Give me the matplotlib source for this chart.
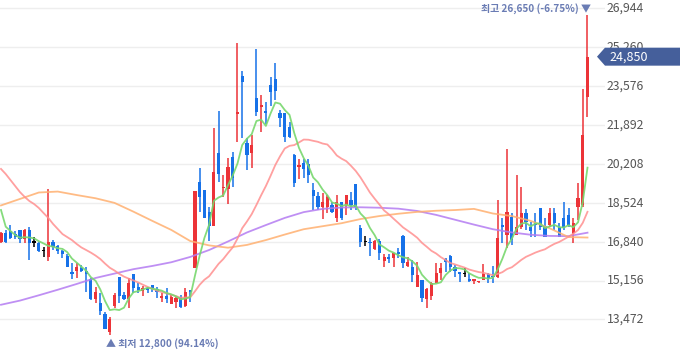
import numpy as np
import pandas as pd
import matplotlib
matplotlib.use("Agg")
import matplotlib.pyplot as plt
from matplotlib.patches import Polygon
from matplotlib.transforms import IdentityTransform, blended_transform_factory

plt.rcParams['font.family'] = ['Noto Sans CJK KR', 'DejaVu Sans']

# daily candles (KRW)
opens = [16840, 17230, 17320, 17170, 17350, 16940, 17350, 16800, 16800, 16450,
         16190, 16830, 16650, 16450, 16220, 15540, 15580, 15700, 15580, 15240,
         14360, 14170, 13710, 12920, 14060, 15310, 14530, 14360, 15430, 14890,
         14710, 14850, 14970, 14790, 14420, 14490, 14140, 14240, 14460, 14060,
         14750, 15690, 19440, 19080, 18110, 17530, 20690, 19150, 19120, 20510,
         22380, 24030, 21100, 20670, 23070, 22680, 22500, 23620, 23880, 22400,
         22400, 21790, 20590, 20060, 20260, 20190, 19080, 18820, 18330, 18360,
         18430, 17850, 18570, 18430, 18650, 19340, 17420, 16810, 16840, 16520,
         16870, 16020, 16160, 16120, 16410, 17090, 15790, 15760, 14870, 15180,
         14360, 14500, 15070, 15500, 16080, 16220, 15730, 15520, 15440, 15210,
         15150, 15080, 15180, 15430, 15360, 15330, 17560, 17130, 17920, 17130,
         17490, 18070, 17460, 17640, 18290, 17520, 17560, 18070, 17490, 17850,
         18000, 17200, 18360, 18430, 23120]
highs = [17270, 17350, 17560, 17320, 17350, 17380, 17460, 17030, 16840, 16620,
         19110, 16910, 16680, 16480, 16310, 15900, 15900, 15830, 15730, 15280,
         14890, 14610, 13810, 13590, 14630, 15310, 14680, 15260, 15430, 15040,
         14920, 14890, 14970, 14870, 14630, 14820, 14530, 14460, 14530, 14820,
         14750, 19050, 20040, 19080, 18360, 21750, 22500, 19730, 20480, 20740,
         25430, 24230, 21320, 21460, 25180, 23190, 22900, 23980, 24560, 22540,
         22400, 22040, 20640, 20410, 20420, 20410, 19370, 19000, 18940, 18860,
         18570, 18860, 18570, 18860, 19000, 19340, 17560, 17100, 16990, 16910,
         16940, 16310, 16310, 16360, 16550, 17130, 16190, 16050, 15970, 15180,
         14820, 15110, 15900, 15900, 16120, 16260, 15830, 15540, 15690, 15470,
         15210, 15150, 15870, 15470, 15790, 18650, 17850, 20840, 18080, 19730,
         19200, 18260, 17710, 18080, 18290, 17850, 18290, 18290, 17640, 18570,
         18290, 17850, 19370, 23440, 26650]
lows = [16770, 16800, 16940, 16940, 16770, 16770, 16050, 16620, 16410, 16190,
        16020, 16480, 16310, 16120, 15730, 15230, 15280, 15540, 14680, 14320,
        14170, 13670, 13060, 12800, 13960, 14200, 14320, 13960, 14630, 14610,
        14490, 14630, 14680, 14390, 14240, 14200, 14140, 13980, 13980, 14030,
        14240, 15690, 18140, 17850, 16880, 17530, 19440, 18790, 18470, 19220,
        21140, 21340, 19940, 20040, 22290, 21600, 21920, 22710, 22970, 21820,
        21140, 21320, 19220, 19540, 19600, 19370, 18210, 18210, 17810, 18070,
        18070, 17710, 17780, 18000, 18210, 18210, 16600, 16650, 16220, 16480,
        16050, 15730, 15930, 15760, 16120, 15690, 15760, 15110, 14870, 14240,
        13960, 14320, 15040, 15180, 15540, 15540, 15330, 15110, 15330, 15110,
        15010, 15040, 15180, 15040, 15040, 15260, 16800, 16550, 16700, 17130,
        17380, 17350, 17060, 17030, 17350, 17030, 17490, 17350, 17030, 17350,
        17490, 16770, 17780, 18360, 22250]
closes = [17230, 16840, 16990, 17060, 16940, 17350, 16770, 16800, 16450, 16450,
          16830, 16600, 16450, 16310, 15760, 15430, 15730, 15560, 15430, 14360,
          14660, 13840, 13060, 13480, 14520, 14500, 14360, 15040, 14850, 14750,
          14850, 14750, 14820, 14680, 14500, 14350, 14460, 14390, 14030, 14650,
          14680, 19050, 18760, 17850, 17530, 19870, 19760, 19220, 20070, 19610,
          22460, 23770, 20590, 21030, 22470, 22760, 22410, 23310, 23380, 22210,
          21390, 21360, 19390, 20160, 20000, 19730, 18820, 18360, 18570, 18790,
          18140, 18570, 17850, 18860, 18430, 18330, 16840, 16810, 16770, 16870,
          16340, 16190, 16090, 16340, 16310, 15900, 15970, 15400, 15400, 14390,
          14790, 15040, 15500, 15690, 15970, 15760, 15580, 15440, 15440, 15140,
          15210, 15150, 15440, 15280, 15300, 16990, 17490, 18140, 16910, 17490,
          18070, 17710, 17320, 17560, 17490, 17060, 18070, 17660, 17060, 17420,
          17560, 17640, 18720, 21460, 24850]

# closes before the visible window, for the 5-day average
prev_closes = [20450, 17925, 17925, 17530]
# 20-day average for the first 19 days (window starts before the chart)
ma20_head = [19990, 19770, 19510, 19250, 18990, 18780, 18600, 18470, 18300, 18080,
             17870, 17610, 17390, 17170, 17040, 16910, 16740, 16590, 16480]
# 60 / 120 day averages read every 4 candles
ma_idx = list(range(0, 125, 4)) + [124]
ma60 = [18410, 18690, 18970, 19010, 18860, 18720, 18520, 18140, 17740, 17350,
        16870, 16680, 16580, 16700, 16910, 17150, 17380, 17510, 17640, 17820,
        17950, 18050, 18130, 18180, 18210, 18260, 18060, 17950, 17740, 17420,
        17040, 17020]
ma120 = [14110, 14290, 14520, 14760, 15010, 15270, 15460, 15650, 15790, 15950,
         16180, 16480, 16850, 17240, 17560, 17870, 18120, 18260, 18320, 18330,
         18310, 18270, 18170, 18000, 17790, 17580, 17380, 17240, 17140, 17090,
         17080, 17230]
ma_idx = ma_idx[:len(ma60)]

yticks = [13472, 15156, 16840, 18524, 20208, 21892, 23576, 25260, 26944]

RED = '#ec3338'
BLUE = '#1671e8'
NOTE = '#6a7cb4'

o = np.array(opens)
h = np.array(highs)
l = np.array(lows)
c = np.array(closes)
x = np.arange(len(c))

cs = pd.Series(prev_closes + closes)
ma5 = cs.rolling(5).mean().to_numpy()[len(prev_closes):]
ma20 = pd.Series(closes).rolling(20).mean().to_numpy()
ma20[:len(ma20_head)] = ma20_head

fig = plt.figure(figsize=(6.8, 3.58), dpi=100)
ax = fig.add_axes([0, 0, 605 / 680, 1])
ax.set_xlim(-0.21, 127.7)
ax.set_ylim(11805, 27303)

for s in ax.spines.values():
    s.set_visible(False)
ax.set_xticks([])
ax.set_yticks([])
for t in yticks:
    ax.axhline(t, color='#eeeeee', lw=1, zorder=0)

# price scale on the right
scale_tr = blended_transform_factory(fig.transFigure, ax.transData)
for t in yticks:
    fig.text(607 / 680, t, f"{t:,}", transform=scale_tr, ha='left', va='center',
             fontsize=8.8, color='#555555')

colors = np.where(c > o, RED, np.where(c < o, BLUE, '#000000'))
ax.vlines(x, l, h, colors=colors, lw=1.1, zorder=2)
ax.bar(x, np.maximum(np.abs(c - o), 50), width=0.68, bottom=np.minimum(o, c),
       color=colors, linewidth=0, zorder=3)

ax.plot(ma_idx, ma120, color='#b47cf2', lw=1.3, alpha=0.85, zorder=4)
ax.plot(ma_idx, ma60, color='#ffb070', lw=1.3, alpha=0.85, zorder=4)
ax.plot(x, ma20, color='#ff8f8f', lw=1.3, alpha=0.85, zorder=4)
ax.plot(x, ma5, color='#78d86e', lw=1.3, alpha=0.9, zorder=4)

# high / low markers
hi = int(np.argmax(h))
lo = int(np.argmin(l))
last = c[-1]
ax.annotate(f"최고 {h[hi]:,} ({(last / h[hi] - 1) * 100:.2f}%) ▼",
            xy=(hi, h[hi]), xytext=(4, 7), textcoords='offset pixels',
            ha='right', va='center', fontsize=7.2, fontweight='bold', color=NOTE)
ax.annotate(f"▲ 최저 {l[lo]:,} ({(last / l[lo] - 1) * 100:.2f}%)",
            xy=(lo, l[lo]), xytext=(-4, -8), textcoords='offset pixels',
            ha='left', va='center', fontsize=7.2, fontweight='bold', color=NOTE)

# current price tag
fig.canvas.draw()
yp = ax.transData.transform((0, last))[1]
tag = Polygon([[597, yp], [605, yp + 9], [680, yp + 9], [680, yp - 9], [605, yp - 9]],
              closed=True, facecolor='#455f9b', edgecolor='none',
              transform=IdentityTransform(), zorder=10)
fig.add_artist(tag)
fig.text(609, yp, f"{last:,}", transform=IdentityTransform(), ha='left', va='center',
         fontsize=9, color='white', zorder=11)

fig.savefig("out.png", dpi=100)
